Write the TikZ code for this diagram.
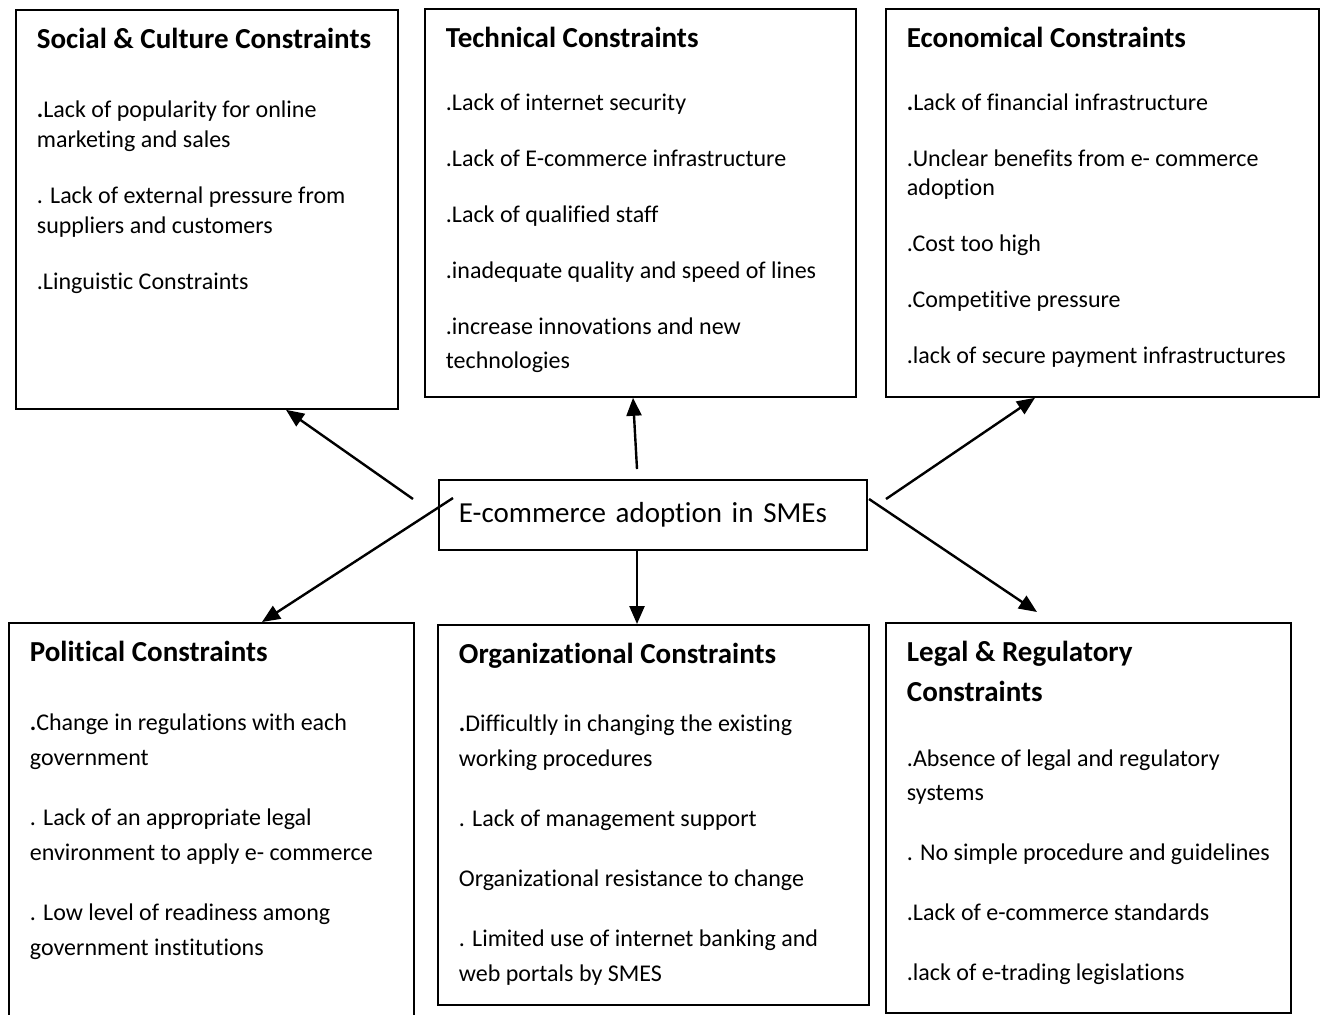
\documentclass[tikz,border=0pt]{standalone}
\usepackage{fontspec}
\setmainfont{Carlito}[Ligatures=NoCommon]
\usetikzlibrary{arrows.meta,calc}
\tikzset{pin/.style={-{Triangle[length=9pt,width=7.5pt]}, line width=1.2pt},
  panel/.style={draw, line width=0.9pt, anchor=north west, inner xsep=10.5pt, inner ysep=0pt}}
% heading line of a panel, first baseline 19.5pt below the frame
\newcommand{\hd}[1]{\rule{0pt}{19.5pt}{\fontsize{14.5}{17}\selectfont\bfseries #1}}

\begin{document}
\begin{tikzpicture}[x=0.5pt, y=-0.5pt]
  \useasboundingbox (0,0) rectangle (1320,1014);
  \clip (0,0) rectangle (1320,1014);
  % top row
  \node[panel] (soc) at (15,9) {\parbox[t][199.5pt][t]{170pt}{\raggedright\fontsize{12}{15}\selectfont
    \hd{Social \& Culture Constraints}\\[19.5pt]
    \textbf{.}Lack of popularity for online\\ marketing and sales\\[13pt]
    . Lack of external pressure from\\ suppliers and customers\\[13pt]
    .Linguistic Constraints}};
  \node[panel] (tech) at (424,8) {\parbox[t][194pt][t]{194.5pt}{\raggedright\fontsize{12}{17}\selectfont
    \hd{Technical Constraints}\\[14.5pt]
    .Lack of internet security\\[11pt]
    .Lack of E-commerce infrastructure\\[11pt]
    .Lack of qualified staff\\[11pt]
    .inadequate quality and speed of lines\\[11pt]
    .increase innovations and new\\ technologies}};
  \node[panel] (econ) at (885,8) {\parbox[t][194pt][t]{195.5pt}{\raggedright\fontsize{12}{14.5}\selectfont
    \hd{Economical Constraints}\\[17pt]
    \textbf{.}Lack of financial infrastructure\\[13.5pt]
    .Unclear benefits from e- commerce\\ adoption\\[13.5pt]
    .Cost too high\\[13.5pt]
    .Competitive pressure\\[13.5pt]
    .lack of secure payment infrastructures}};
  % centre
  \node[draw, line width=0.9pt, anchor=north west, minimum width=214pt, minimum height=35pt,
    text width=194pt, align=left, inner xsep=10pt, font=\fontsize{14.5}{17}\selectfont] (core) at (438,479)
    {E-commerce adoption in SMEs};
  % bottom row
  \node[panel] (pol) at (8,622) {\parbox[t][204pt][t]{181.5pt}{\raggedright\fontsize{12}{17.5}\selectfont
    \hd{Political Constraints}\\[17pt]
    \textbf{.}Change in regulations with each\\ government\\[12.5pt]
    . Lack of an appropriate legal\\ environment to apply e- commerce\\[12.5pt]
    . Low level of readiness among\\ government institutions}};
  \node[panel] (org) at (437,624) {\parbox[t][190pt][t]{194.5pt}{\raggedright\fontsize{12}{17.5}\selectfont
    \hd{Organizational Constraints}\\[16.5pt]
    \textbf{.}Difficultly in changing the existing\\ working procedures\\[12.5pt]
    . Lack of management support\\[12.5pt]
    Organizational resistance to change\\[12.5pt]
    . Limited use of internet banking and\\ web portals by SMES}};
  \node[panel] (legal) at (885,622) {\parbox[t][195pt][t]{181.5pt}{\raggedright\fontsize{12}{17}\selectfont
    \hd{Legal \& Regulatory\\[3pt] Constraints}\\[15.5pt]
    .Absence of legal and regulatory\\ systems\\[13pt]
    . No simple procedure and guidelines\\[13pt]
    .Lack of e-commerce standards\\[13pt]
    .lack of e-trading legislations}};
  % loose tails around the centre box
  \coordinate (t-soc) at (413,499);
  \coordinate (t-tech) at (637,469);
  \coordinate (t-econ) at (886,499);
  \coordinate (t-pol) at (453,498);
  \coordinate (t-legal) at (869,499);
  % arrows
  \draw[pin] (t-soc) -- ($(soc.south west)+(271,0)$);
  \draw[pin] (t-tech) -- ($(tech.south west)+(209,0)$);
  \draw[pin] (t-econ) -- ($(econ.south west)+(150,0)$);
  \draw[pin] (t-pol) -- ($(pol.north west)+(254,0)$);
  \draw[pin] ($(core.south west)+(199,0)$) -- ($(org.north west)+(200,0)$);
  \draw[pin] (t-legal) -- ($(legal.north west)+(152,-10)$);
\end{tikzpicture}
\end{document}
